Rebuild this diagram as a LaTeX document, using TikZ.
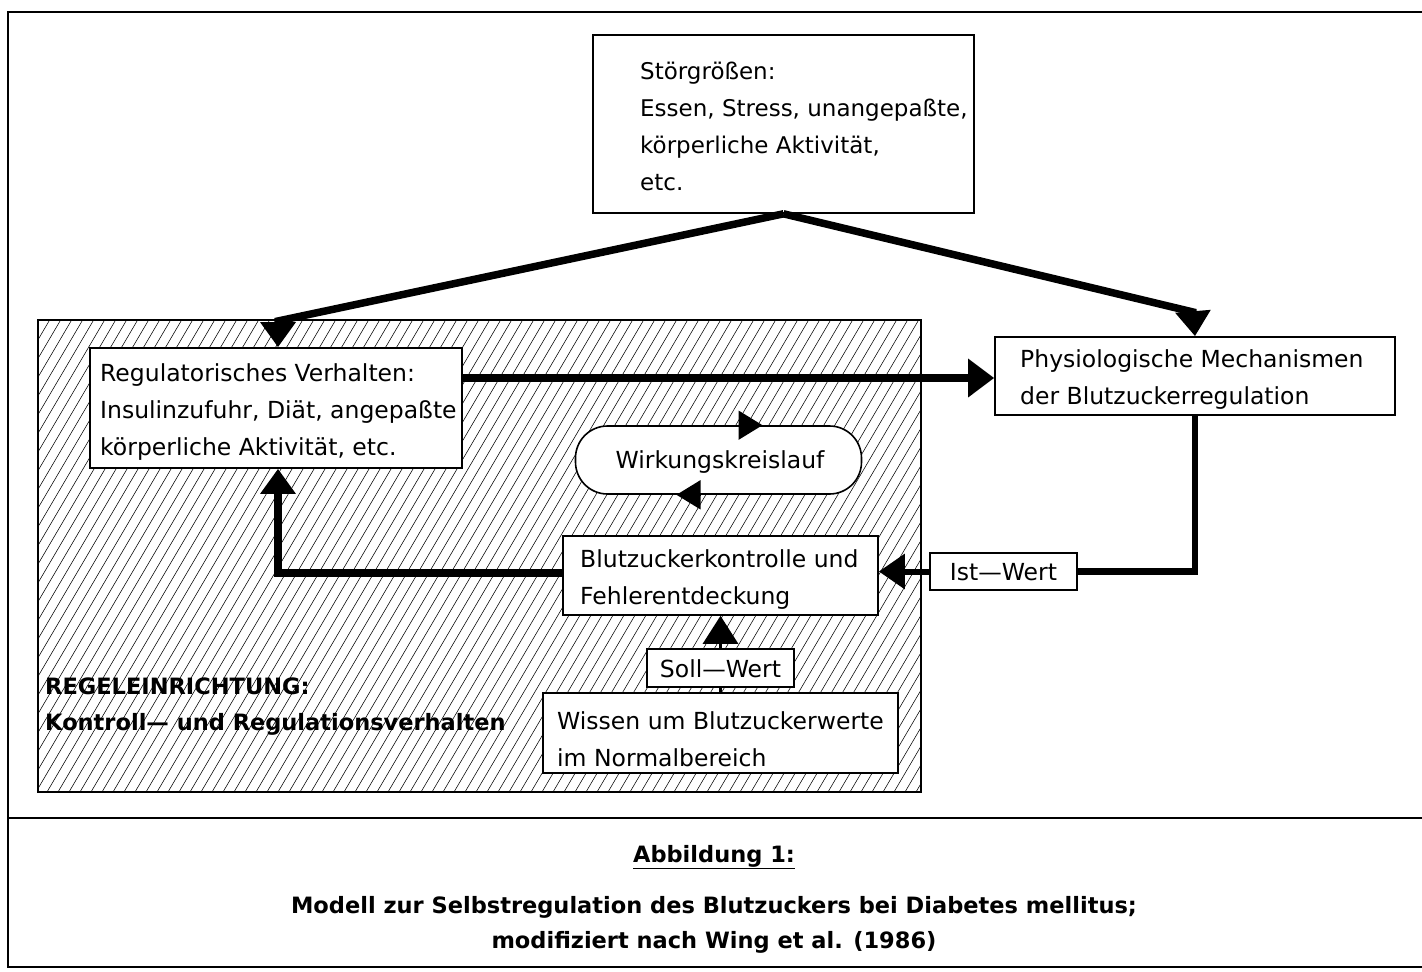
\documentclass[tikz,border=0pt]{standalone}
\usepackage{fontspec}
\setmainfont{DejaVu Sans}
\newfontfamily\capfont{DejaVu Sans}[BoldFont={DejaVu Sans Bold}]
\usetikzlibrary{arrows.meta,calc}
\begin{document}
\begin{tikzpicture}[x=1pt,y=-1pt,
  box/.style={draw,line width=1.6pt,fill=white,inner sep=0pt},
  txt/.style={anchor=base west,align=left,inner sep=0pt,font=\fontsize{23.5}{37}\selectfont},
  ctxt/.style={inner sep=0pt,font=\fontsize{23.5}{37}\selectfont},
  captxt/.style={inner sep=0pt,font=\bfseries\fontsize{22.5}{36}\selectfont},
  thick arrow/.style={line width=7.5pt,-{Triangle[length=25pt,width=34pt]}},
  big arrow/.style={line width=7.5pt,-{Triangle[length=26pt,width=37pt]}},
  mid arrow/.style={line width=6pt,-{Triangle[length=26pt,width=34pt]}},
  stem arrow/.style={line width=3pt,-{Triangle[length=28pt,width=35pt]}},
  loop arrow/.style={line width=1.6pt,-{Triangle[length=24pt,width=29pt]}}]
\useasboundingbox (0,0) rectangle (1422,972);
% outer frame
\draw[line width=1.5pt] (1422,12) -- (8,12) -- (8,967) -- (1422,967);
\draw[line width=1.5pt] (8,818) -- (1422,818);
% hatched region
\begin{scope}
\clip (38,320) rectangle (921,792);
\foreach \k in {0,...,108} {
  \draw[line width=0.55pt] (\k*11-250,792) -- ++(290,-493);
}
\end{scope}
\node[draw,line width=1.6pt,inner sep=0pt,minimum width=883pt,minimum height=472pt] (regel) at (479.5,556) {};
% boxes
\node[box,minimum width=381pt,minimum height=178pt] (stoer) at (783.5,124) {};
\node[txt,font=\fontsize{23}{37}\selectfont] (stoert) at (640,190) {Störgrößen:\\Essen, Stress, unangepaßte,\\körperliche Aktivität,\\etc.};
\node[box,minimum width=372pt,minimum height=120pt] (reg) at (276,408) {};
\node[txt] (regt) at (100,455) {Regulatorisches Verhalten:\\Insulinzufuhr, Diät, angepaßte\\körperliche Aktivität, etc.};
\node[box,minimum width=400pt,minimum height=78pt] (phys) at (1195,376) {};
\node[txt] (physt) at (1020,404) {Physiologische Mechanismen\\der Blutzuckerregulation};
\node[box,rounded corners=32pt,minimum width=286pt,minimum height=68pt] (wk) at (718.5,460) {};
\node[ctxt,anchor=base] (wkt) at (720,468) {Wirkungskreislauf};
\node[box,minimum width=315pt,minimum height=79pt] (blut) at (720.5,575.5) {};
\node[txt] (blutt) at (580,604) {Blutzuckerkontrolle und\\Fehlerentdeckung};
\node[box,minimum width=147pt,minimum height=37pt] (ist) at (1003.5,571.5) {};
\node[ctxt,anchor=base] (istt) at (1003.5,580) {Ist—Wert};
\node[box,minimum width=147pt,minimum height=38pt] (soll) at (720.5,668) {};
\node[ctxt,anchor=base] (sollt) at (720.5,677) {Soll—Wert};
\node[box,minimum width=355pt,minimum height=80pt] (wiss) at (720.5,733) {};
\node[txt] (wisst) at (557,766) {Wissen um Blutzuckerwerte\\im Normalbereich};
\node[captxt,anchor=base west,align=left] (regelt) at (45,730) {REGELEINRICHTUNG:\\Kontroll— und Regulationsverhalten};
% caption
\node[captxt,anchor=base] (cap1) at (714,862) {\underline{Abbildung 1:}};
\node[captxt,anchor=base,align=center,font=\bfseries\fontsize{22.5}{35}\selectfont] (cap2) at (714,948) {Modell zur Selbstregulation des Blutzuckers bei Diabetes mellitus;\\modifiziert nach Wing et al. (1986)};
% connectors
\coordinate (s) at (stoer.south);
\draw[thick arrow] (s) -- (278,321) -- (278,0|-reg.north);
\draw[thick arrow] (s) -- (1193,312) -- (phys.north);
\draw[big arrow] (reg.east|-0,378) -- (phys.west|-0,378);
\draw[line width=6.5pt] (phys.south) |- (ist.east);
\draw[mid arrow] (ist.west) -- (blut.east|-ist.west);
\draw[thick arrow] (blut.west|-0,573) -| (278,0|-reg.south);
\draw[stem arrow] (soll.north) -- (blut.south-|soll.north);
\draw[line width=3pt] (wiss.north-|soll.south) -- (soll.south);
\draw[loop arrow] ([xshift=20pt]wk.north) -- ([xshift=44pt]wk.north);
\draw[loop arrow] ([xshift=-18pt]wk.south) -- ([xshift=-42pt]wk.south);
\end{tikzpicture}
\end{document}
